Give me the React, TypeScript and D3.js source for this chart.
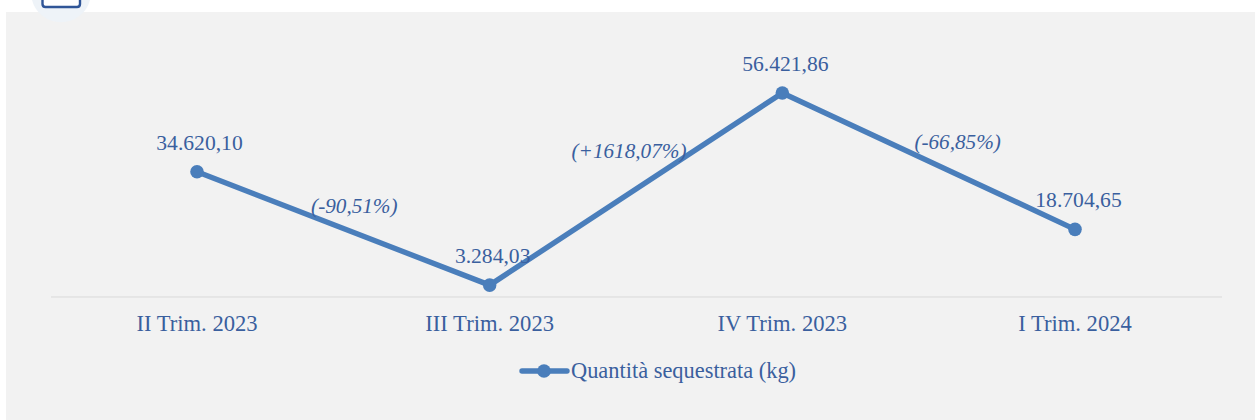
import React from "react";
import * as d3 from "d3";

const categories = ["II Trim. 2023", "III Trim. 2023", "IV Trim. 2023", "I Trim. 2024"];
const values = [34620.1, 3284.03, 56421.86, 18704.65];
const valueLabels = ["34.620,10", "3.284,03", "56.421,86", "18.704,65"];
const changes = ["(-90,51%)", "(+1618,07%)", "(-66,85%)"];
const seriesName = "Quantità sequestrata (kg)";

const W = 1255, H = 420;
const FONT = "'Liberation Serif', serif";
const TEXT = "#3a5f9e";
const LINE = "#4a7ebb";

const x = d3.scalePoint<string>().domain(categories).range([197, 1075]);
const y = d3.scaleLinear().domain([0, 60000]).range([297, 80]);
const line = d3.line<number>().x((_, i) => x(categories[i])!).y(d => y(d));

const labelOffset: [number, number][] = [[2.5, -22], [3, -22], [3, -22], [3.5, -22]];
const changeOffset: [number, number][] = [[11, -15], [-7, -31], [29, -12]];

export default function App() {
  return (
    <svg width={W} height={H} style={{ position: "fixed", left: 0, top: 0 }} fontFamily={FONT}>
      <rect width={W} height={H} fill="#ffffff" />
      <rect x={6} y={12} width={W - 6} height={H - 12} fill="#f2f2f2" />
      <path d="M32 0 A30 30 0 0 0 90 0 Z" fill="#eef3f8" />
      <path d="M42.5 0 V4 Q42.5 7 45.5 7 H77 Q80 7 80 4 V0" fill="#ffffff" stroke="#2f5597" strokeWidth={2.4} />
      <line x1={51} x2={1222} y1={y(0)} y2={y(0)} stroke="#d9d9d9" strokeWidth={1} />
      <path d={line(values)!} fill="none" stroke={LINE} strokeWidth={5.4} strokeLinejoin="round" />
      {values.map((v, i) => (
        <circle key={i} cx={x(categories[i])!} cy={y(v)} r={6.8} fill={LINE} />
      ))}
      {values.map((v, i) => (
        <text key={i} x={x(categories[i])! + labelOffset[i][0]} y={y(v) + labelOffset[i][1]} textAnchor="middle" fontSize={21.6} fill={TEXT}>
          {valueLabels[i]}
        </text>
      ))}
      {changes.map((c, i) => {
        const mx = (x(categories[i])! + x(categories[i + 1])!) / 2;
        const my = (y(values[i]) + y(values[i + 1])) / 2;
        return (
          <text key={i} x={mx + changeOffset[i][0]} y={my + changeOffset[i][1]} textAnchor="middle" fontSize={21.2} fontStyle="italic" fill={TEXT}>
            {c}
          </text>
        );
      })}
      {categories.map(c => (
        <text key={c} x={x(c)!} y={331} textAnchor="middle" fontSize={22.6} fill={TEXT}>{c}</text>
      ))}
      <line x1={522} x2={567} y1={371} y2={371} stroke={LINE} strokeWidth={5.4} strokeLinecap="round" />
      <circle cx={544} cy={371} r={6.8} fill={LINE} />
      <text x={571} y={378} fontSize={22.4} fill={TEXT}>{seriesName}</text>
    </svg>
  );
}
